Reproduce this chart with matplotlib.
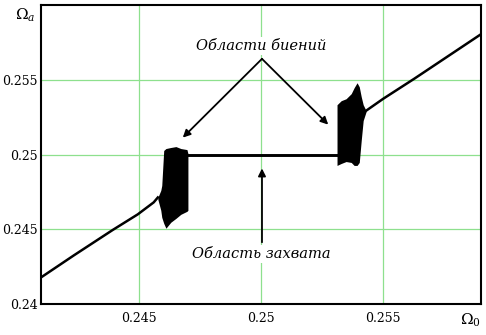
import matplotlib
matplotlib.use("Agg")
import matplotlib.pyplot as plt

# ---- data ----
# free-running branch left of the first beat region
left_x = [0.24102, 0.24234, 0.24393, 0.24496, 0.24561, 0.24578]
left_y = [0.24180, 0.24325, 0.24495, 0.24600, 0.24680, 0.24713]

# first beat region (envelope of the oscillations)
beat1_x  = [0.24578, 0.24590, 0.24594, 0.24602, 0.24611, 0.24631, 0.24652, 0.24672, 0.24697, 0.24701]
beat1_hi = [0.24713, 0.24760, 0.24793, 0.25027, 0.25040, 0.25047, 0.25053, 0.25040, 0.25033, 0.25007]
beat1_lo = [0.24700, 0.24627, 0.24580, 0.24540, 0.24507, 0.24547, 0.24573, 0.24600, 0.24620, 0.24627]

# lock-in (capture) region
lock_x = [0.24701, 0.25311]
lock_y = [0.25000, 0.25000]

# second beat region
beat2_x  = [0.25311, 0.25328, 0.25348, 0.25369, 0.25381, 0.25393, 0.25402, 0.25410, 0.25418, 0.25430]
beat2_hi = [0.25333, 0.25360, 0.25373, 0.25407, 0.25447, 0.25480, 0.25453, 0.25387, 0.25333, 0.25293]
beat2_lo = [0.24927, 0.24940, 0.24953, 0.24947, 0.24927, 0.24927, 0.24947, 0.25093, 0.25227, 0.25287]

# free-running branch right of the second beat region
right_x = [0.25430, 0.25500, 0.25627, 0.25902]
right_y = [0.25293, 0.25373, 0.25507, 0.25807]

xticks = [0.245, 0.25, 0.255]
xticklabels = ["0.245", "0.25", "0.255"]
yticks = [0.24, 0.245, 0.25, 0.255]
yticklabels = ["0.24", "0.245", "0.25", "0.255"]

plt.rcParams['mathtext.fontset'] = 'dejavuserif'
fig = plt.figure(figsize=(4.86, 3.35), dpi=100)
ax = fig.add_axes([0.0844, 0.0925, 0.9053, 0.8925])

grid_c = '#8ee08e'
ax.set_xlim(0.241, 0.259)
ax.set_ylim(0.24, 0.26)
ax.set_xticks(xticks)
ax.set_xticklabels(xticklabels)
ax.set_yticks(yticks)
ax.set_yticklabels(yticklabels)
ax.grid(True, color=grid_c, lw=0.9, zorder=0)
ax.tick_params(axis='x', length=0, labelsize=9, pad=6)
ax.tick_params(axis='y', length=0, labelsize=9, pad=2.5)
for lab in ax.get_xticklabels() + ax.get_yticklabels():
    lab.set_family('DejaVu Serif')
for s in ax.spines.values():
    s.set_linewidth(1.5)
    s.set_color('black')

lw = 1.8
ax.plot(left_x, left_y, color='black', lw=lw, zorder=3)
ax.fill_between(beat1_x, beat1_lo, beat1_hi, color='black', lw=0, zorder=3)
ax.plot(lock_x, lock_y, color='black', lw=lw + 0.3, zorder=3)
ax.fill_between(beat2_x, beat2_lo, beat2_hi, color='black', lw=0, zorder=3)
ax.plot(right_x, right_y, color='black', lw=lw, zorder=3)

tfont = dict(family='DejaVu Serif', style='italic', fontsize=10.5)
bbox = dict(facecolor='white', edgecolor='none', pad=1.5)
ax.text(0.25, 0.25727, "Области биений", ha='center', va='center', bbox=bbox, zorder=4, **tfont)
ax.text(0.25, 0.24333, "Область захвата", ha='center', va='center', bbox=bbox, zorder=4, **tfont)

ap = dict(arrowstyle='-|>', color='black', lw=1.3, mutation_scale=11, shrinkA=0, shrinkB=0)
ax.annotate("", xy=(0.24680, 0.25113), xytext=(0.25004, 0.2564), arrowprops=ap, zorder=5)
ax.annotate("", xy=(0.25275, 0.2520), xytext=(0.25004, 0.2564), arrowprops=ap, zorder=5)
ax.annotate("", xy=(0.25004, 0.24907), xytext=(0.25004, 0.24413), arrowprops=ap, zorder=5)

fig.text(25 / 486, 1 - 15 / 335, r'$\Omega_a$', fontsize=11, ha='center', va='center')
fig.text(470 / 486, 1 - 320 / 335, r'$\Omega_0$', fontsize=11, ha='center', va='center')

fig.savefig("out.png", dpi=100)
